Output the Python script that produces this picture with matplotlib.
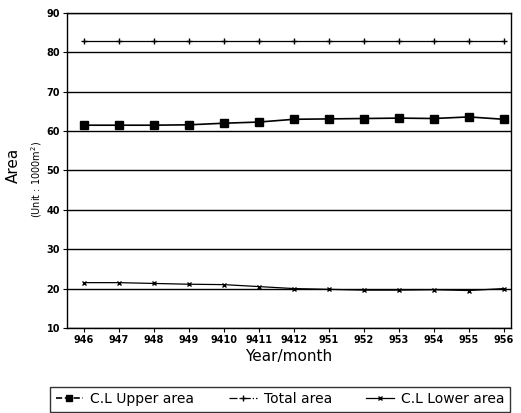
import matplotlib
matplotlib.use('Agg')
import matplotlib.pyplot as plt
import numpy as np

months = ['946', '947', '948', '949', '9410', '9411', '9412',
          '951', '952', '953', '954', '955', '956']
upper = [61.5, 61.5, 61.5, 61.6, 62.0, 62.3, 63.0, 63.1, 63.2, 63.3, 63.2, 63.6, 63.0]
total = [83.0] * 13
lower = [21.5, 21.5, 21.3, 21.1, 21.0, 20.5, 20.0, 19.8, 19.6, 19.6, 19.7, 19.5, 20.0]

fig = plt.figure(figsize=(5.21, 4.13), dpi=100)
ax = fig.add_axes([0.1286, 0.206, 0.852, 0.7625])

x = np.arange(len(months))
l1, = ax.plot(x, upper, color='black', lw=1.2, marker='s', markersize=5.5,
              label='C.L Upper area')
l2, = ax.plot(x, total, color='black', lw=0.9, marker='+', markersize=5,
              markeredgewidth=1.0, label='Total area')
l3, = ax.plot(x, lower, color='black', lw=0.9, marker='x', markersize=3.5,
              markeredgewidth=1.0, label='C.L Lower area')

ax.set_xlim(-0.48, 12.2)
ax.set_ylim(10, 90)
ax.set_yticks(range(10, 91, 10))
ax.set_xticks(x)
ax.set_xticklabels(months)
ax.yaxis.grid(True, color='black', lw=1.0)
ax.tick_params(labelsize=7, length=3, width=0.8, color='black', pad=2)
for lab in ax.get_xticklabels() + ax.get_yticklabels():
    lab.set_fontweight('bold')
for s in ax.spines.values():
    s.set_linewidth(1.0)

ax.set_xlabel('Year/month', fontsize=11, labelpad=3)
fig.text(0.025, 0.60, 'Area', rotation=90, fontsize=11, ha='center', va='center')
fig.text(0.07, 0.565, '(Unit : 1000m$^2$)', rotation=90, fontsize=7,
         ha='center', va='center')

leg = fig.legend(handles=[l1, l2, l3], loc='lower left', ncol=3, mode='expand',
                 bbox_to_anchor=(0.096, 0.003, 0.883, 0.07), fontsize=10,
                 frameon=True, fancybox=False, edgecolor='black',
                 handlelength=2.0, handletextpad=0.5, borderpad=0.4,
                 columnspacing=0.8, borderaxespad=0, markerscale=0.8)
leg.get_frame().set_linewidth(1.0)
leg.legend_handles[1].set_linestyle('-.')
leg.legend_handles[0].set_linestyle('--')

fig.savefig('out.png', dpi=100)
